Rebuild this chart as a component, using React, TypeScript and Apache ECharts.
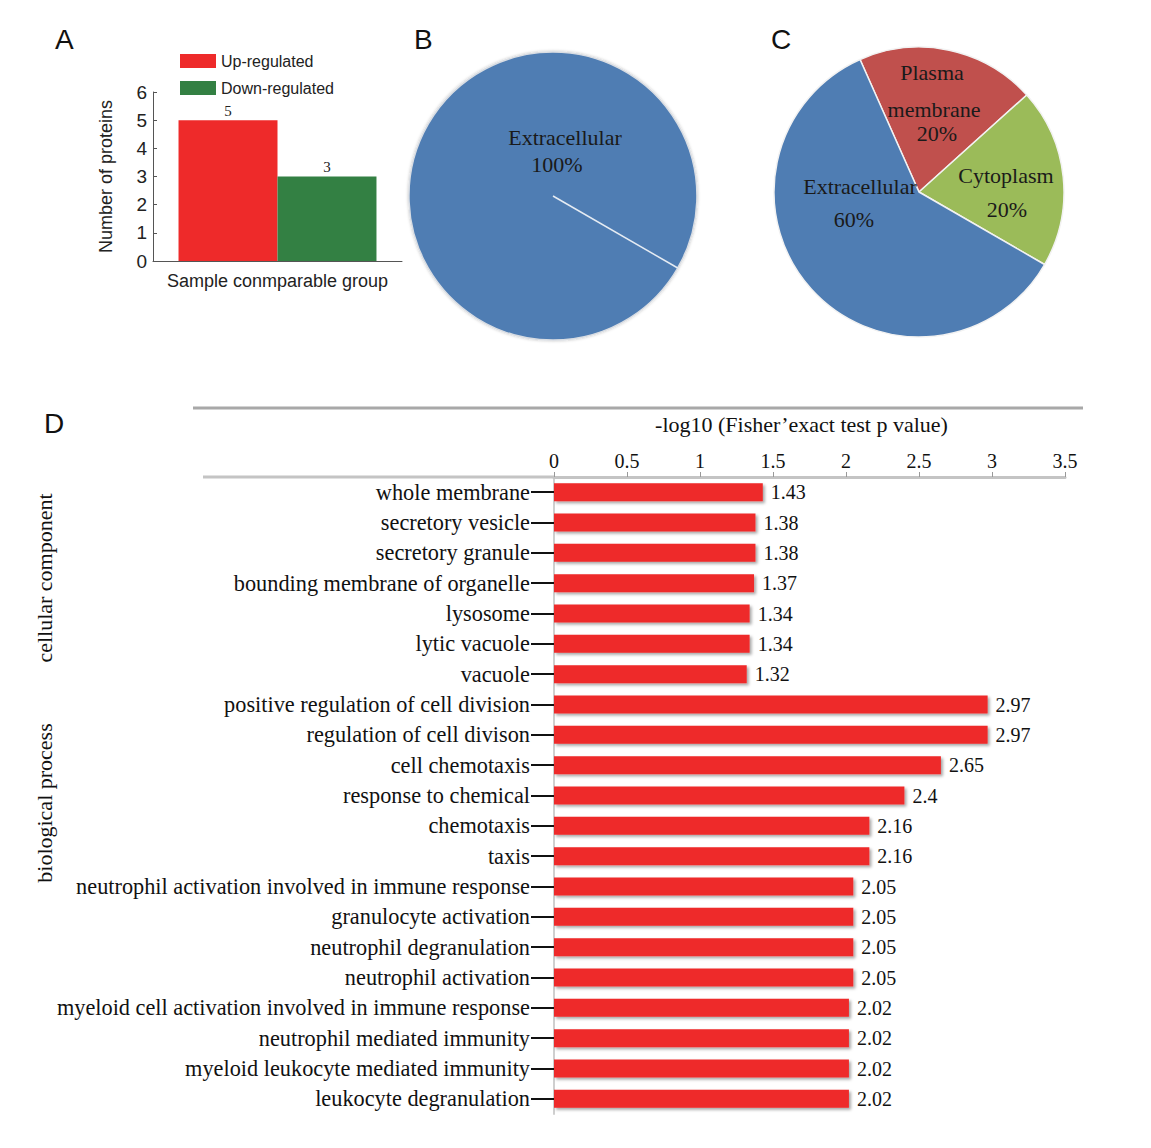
import React, { useEffect, useRef } from "react";
import * as echarts from "echarts";

// ---------- Panel A data ----------
const groupLabel = ["Sample conmparable group"];
const upName = "Up-regulated";
const downName = "Down-regulated";
const upValues = [5];
const downValues = [3];
const countTicks = [0, 1, 2, 3, 4, 5, 6];

// ---------- Panel B data ----------
const pieBNames = ["Extracellular"];
const pieBValues = [100];

// ---------- Panel C data ----------
const pieCNames = ["Plasma membrane", "Cytoplasm", "Extracellular"];
const pieCValues = [20, 20, 60];

// ---------- Panel D data ----------
const goTerms = [
  "whole membrane",
  "secretory vesicle",
  "secretory granule",
  "bounding membrane of organelle",
  "lysosome",
  "lytic vacuole",
  "vacuole",
  "positive regulation of cell division",
  "regulation of cell divison",
  "cell chemotaxis",
  "response to chemical",
  "chemotaxis",
  "taxis",
  "neutrophil activation involved in immune response",
  "granulocyte activation",
  "neutrophil degranulation",
  "neutrophil activation",
  "myeloid cell activation involved in immune response",
  "neutrophil mediated immunity",
  "myeloid leukocyte mediated immunity",
  "leukocyte degranulation",
];
const goValues = [
  1.43, 1.38, 1.38, 1.37, 1.34, 1.34, 1.32, 2.97, 2.97, 2.65, 2.4, 2.16, 2.16,
  2.05, 2.05, 2.05, 2.05, 2.02, 2.02, 2.02, 2.02,
];
const goTickValues = [0, 0.5, 1, 1.5, 2, 2.5, 3, 3.5];
const goAxisTitle = "-log10 (Fisher\u2019exact test p value)";
const groupNames = ["cellular component", "biological process"];

const SERIF = "'Liberation Serif', 'Times New Roman', serif";
const SANS = "'Liberation Sans', Arial, sans-serif";

export default function App() {
  const ref = useRef<HTMLDivElement>(null);

  useEffect(() => {
    if (!ref.current) return;
    const chart = echarts.init(ref.current, undefined, { renderer: "svg" });

    const pieB = { cx: 553, cy: 196, r: 144, start: -30 };
    const pieC = { cx: 919, cy: 192, r: 145, start: 114 };
    const bAng = (pieB.start * Math.PI) / 180;

    const label = (text: string, x: number, y: number) => ({
      type: "text",
      x,
      y,
      z: 10,
      silent: true,
      style: { text, font: `22px ${SERIF}`, fill: "#1a1a1a", textAlign: "center", textVerticalAlign: "middle" },
    });

    const option: any = {
      animation: false,
      backgroundColor: "#ffffff",
      textStyle: { fontFamily: SERIF },
      legend: {
        data: [upName, downName],
        orient: "vertical",
        left: 180,
        top: 53,
        padding: 0,
        itemWidth: 36,
        itemHeight: 14,
        itemGap: 11,
        icon: "rect",
        textStyle: { fontFamily: SANS, fontSize: 16, color: "#222" },
      },
      grid: [
        { left: 153, top: 92, width: 249, height: 169 },
        { left: 554, top: 477, width: 511, height: 637 },
      ],
      xAxis: [
        {
          gridIndex: 0,
          type: "category",
          data: groupLabel,
          axisLabel: { show: false },
          axisTick: { show: false },
          axisLine: { lineStyle: { color: "#555", width: 1 } },
          name: groupLabel[0],
          nameLocation: "middle",
          nameGap: 11,
          nameTextStyle: { fontFamily: SANS, fontSize: 18, color: "#222" },
        },
        {
          gridIndex: 1,
          type: "value",
          position: "top",
          min: goTickValues[0],
          max: goTickValues[goTickValues.length - 1],
          interval: 0.5,
          axisLine: { show: true, lineStyle: { color: "#c4c4c4", width: 3 } },
          axisTick: { show: true, length: 5, lineStyle: { color: "#999", width: 1 } },
          axisLabel: { fontFamily: SERIF, fontSize: 20, color: "#111", margin: 6 },
          splitLine: { show: false },
          name: goAxisTitle,
          nameLocation: "middle",
          nameGap: 42,
          nameTextStyle: { fontFamily: SERIF, fontSize: 22, color: "#111", padding: [0, 16, 0, 0] },
        },
      ],
      yAxis: [
        {
          gridIndex: 0,
          type: "value",
          min: countTicks[0],
          max: countTicks[countTicks.length - 1],
          interval: 1,
          axisLine: { show: true, lineStyle: { color: "#555", width: 1 } },
          axisTick: { show: true, inside: true, length: 4, lineStyle: { color: "#555" } },
          axisLabel: { fontFamily: SANS, fontSize: 19, color: "#222", margin: 6 },
          splitLine: { show: false },
          name: "Number of proteins",
          nameLocation: "middle",
          nameGap: 38,
          nameTextStyle: { fontFamily: SANS, fontSize: 18, color: "#222" },
        },
        {
          gridIndex: 1,
          type: "category",
          inverse: true,
          data: goTerms,
          axisLine: { show: true, lineStyle: { color: "#cfcfcf", width: 2 } },
          axisTick: { show: true, alignWithLabel: true, length: 23, lineStyle: { color: "#111", width: 2 } },
          axisLabel: { fontFamily: SERIF, fontSize: 22.3, color: "#111", margin: 24 },
        },
      ],
      series: [
        {
          name: upName,
          type: "bar",
          xAxisIndex: 0,
          yAxisIndex: 0,
          data: upValues,
          barGap: "0%",
          barCategoryGap: "20.5%",
          itemStyle: { color: "#ee2a2a" },
          label: { show: true, position: "top", distance: 2, fontFamily: SERIF, fontSize: 15, color: "#222" },
        },
        {
          name: downName,
          type: "bar",
          xAxisIndex: 0,
          yAxisIndex: 0,
          data: downValues,
          barGap: "0%",
          barCategoryGap: "20.5%",
          itemStyle: { color: "#338043" },
          label: { show: true, position: "top", distance: 2, fontFamily: SERIF, fontSize: 15, color: "#222" },
        },
        {
          name: "B",
          type: "pie",
          center: [pieB.cx, pieB.cy],
          radius: pieB.r,
          startAngle: pieB.start,
          silent: true,
          label: { show: false },
          labelLine: { show: false },
          itemStyle: {
            color: "#4f7db3",
            borderColor: "#d9dde3",
            borderWidth: 1.5,
            shadowColor: "rgba(0,0,0,0.25)",
            shadowBlur: 3,
          },
          data: pieBNames.map((n, i) => ({ name: n, value: pieBValues[i] })),
        },
        {
          name: "C",
          type: "pie",
          center: [pieC.cx, pieC.cy],
          radius: pieC.r,
          startAngle: pieC.start,
          silent: true,
          label: { show: false },
          labelLine: { show: false },
          itemStyle: { borderColor: "#f2f2f2", borderWidth: 1.5 },
          color: ["#c0504d", "#9bbb59", "#4f7db3"],
          data: pieCNames.map((n, i) => ({ name: n, value: pieCValues[i] })),
        },
        {
          name: "GO",
          type: "bar",
          xAxisIndex: 1,
          yAxisIndex: 1,
          data: goValues,
          barWidth: 18,
          itemStyle: {
            color: "#ee2a2a",
            shadowColor: "rgba(0,0,0,0.35)",
            shadowBlur: 3,
            shadowOffsetX: 2,
            shadowOffsetY: 2,
          },
          label: { show: true, position: "right", distance: 8, fontFamily: SERIF, fontSize: 20, color: "#111" },
        },
      ],
      graphic: [
        // panel letters
        { type: "text", left: 55, top: 25, style: { text: "A", font: `28px ${SANS}`, fill: "#111" } },
        { type: "text", left: 414, top: 25, style: { text: "B", font: `28px ${SANS}`, fill: "#111" } },
        { type: "text", left: 771, top: 25, style: { text: "C", font: `28px ${SANS}`, fill: "#111" } },
        { type: "text", left: 44, top: 409, style: { text: "D", font: `28px ${SANS}`, fill: "#111" } },
        // pie B separator & label
        {
          type: "line",
          silent: true,
          shape: {
            x1: pieB.cx,
            y1: pieB.cy,
            x2: pieB.cx + pieB.r * Math.cos(bAng),
            y2: pieB.cy - pieB.r * Math.sin(bAng),
          },
          style: { stroke: "#e6ecf3", lineWidth: 1.5 },
          z: 10,
        },
        label("Extracellular", 565, 137),
        label("100%", 557, 164),
        // pie C labels
        label("Plasma", 932, 72),
        label("membrane", 934, 109),
        label("20%", 937, 133),
        label("Cytoplasm", 1006, 175),
        label("20%", 1007, 209),
        label("Extracellular", 860, 186),
        label("60%", 854, 219),
        // panel D decorations
        { type: "line", silent: true, shape: { x1: 193, y1: 408, x2: 1083, y2: 408 }, style: { stroke: "#a8a8a8", lineWidth: 3 } },
        { type: "line", silent: true, shape: { x1: 203, y1: 477, x2: 554, y2: 477 }, style: { stroke: "#c4c4c4", lineWidth: 3 } },
        {
          type: "text",
          x: 44,
          y: 578,
          rotation: Math.PI / 2,
          style: { text: groupNames[0], font: `22px ${SERIF}`, fill: "#111", textAlign: "center", textVerticalAlign: "middle" },
        },
        {
          type: "text",
          x: 44,
          y: 803,
          rotation: Math.PI / 2,
          style: { text: groupNames[1], font: `22px ${SERIF}`, fill: "#111", textAlign: "center", textVerticalAlign: "middle" },
        },
      ],
    };

    chart.setOption(option);
    return () => chart.dispose();
  }, []);

  return (
    <div
      ref={ref}
      style={{ position: "absolute", left: 0, top: 0, width: 1151, height: 1148 }}
    />
  );
}
